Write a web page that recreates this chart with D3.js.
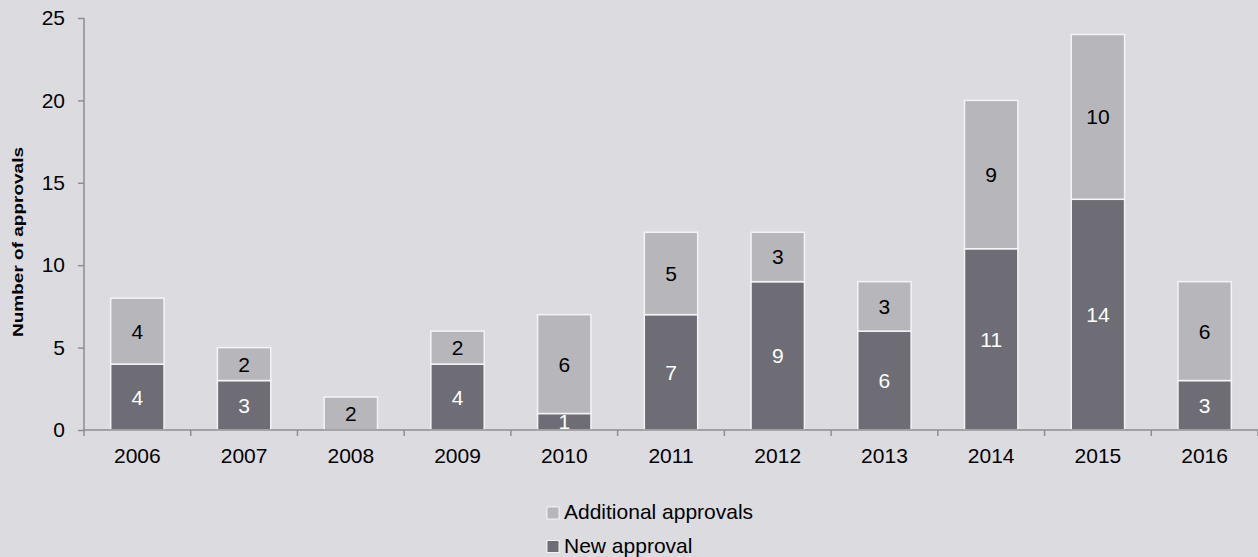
<!DOCTYPE html>
<html>
<head>
<meta charset="utf-8">
<script src="https://cdn.jsdelivr.net/npm/d3@7"></script>
<style>
  html, body { margin: 0; padding: 0; background: #dcdbe0; }
  svg { display: block; font-family: "Liberation Sans", Arial, sans-serif; }
</style>
</head>
<body>
<svg id="chart" width="1258" height="557"></svg>
<script>
const years = ['2006', '2007', '2008', '2009', '2010', '2011', '2012', '2013', '2014', '2015', '2016'];
const newApproval = [4, 3, 0, 4, 1, 7, 9, 6, 11, 14, 3];
const additionalApprovals = [4, 2, 2, 2, 6, 5, 3, 3, 9, 10, 6];
const yTicks = [0, 5, 10, 15, 20, 25];

const seriesInfo = [
    { key: 'new', name: 'New approval', fill: '#6e6d75', text: '#ffffff' },
    { key: 'add', name: 'Additional approvals', fill: '#b7b6bb', text: '#000000' }
];

const svg = d3.select('#chart');
const margin = { left: 84, right: 0, top: 18, bottom: 127 };
const W = 1258, H = 557;
const axisColor = '#8e8d92';
const fs = 21;

const x = d3.scaleBand().domain(years).range([margin.left, W - margin.right]).paddingInner(0.5).paddingOuter(0.25);
const y = d3.scaleLinear().domain([0, 25]).range([H - margin.bottom, margin.top]);

// stack the two series
const rows = years.map((yr, i) => ({ year: yr, new: newApproval[i], add: additionalApprovals[i] }));
const stacked = d3.stack().keys(['new', 'add'])(rows);

const g = svg.append('g');
stacked.forEach((layer, li) => {
    const info = seriesInfo[li];
    const segs = layer.filter(d => d[1] > d[0]);
    const lg = g.append('g');
    lg.selectAll('rect').data(segs).join('rect')
        .attr('x', d => x(d.data.year))
        .attr('width', x.bandwidth())
        .attr('y', d => y(d[1]))
        .attr('height', d => y(d[0]) - y(d[1]))
        .attr('fill', info.fill)
        .attr('stroke', '#f4f4f6')
        .attr('stroke-width', 1.5);
    lg.selectAll('text').data(segs).join('text')
        .attr('x', d => x(d.data.year) + x.bandwidth() / 2)
        .attr('y', d => (y(d[0]) + y(d[1])) / 2 + 7.5)
        .attr('text-anchor', 'middle')
        .attr('font-size', fs)
        .attr('fill', info.text)
        .text(d => d[1] - d[0]);
});

// y axis
const yAxis = svg.append('g').attr('transform', `translate(${margin.left},0)`)
    .call(d3.axisLeft(y).tickValues(yTicks).tickSize(6).tickPadding(13));
yAxis.select('.domain').attr('stroke', axisColor).attr('stroke-width', 1.5).attr('d', `M0,${y(25)}V${y(0)}`);
yAxis.selectAll('.tick line').attr('stroke', axisColor).attr('stroke-width', 1.5);
yAxis.selectAll('.tick text').attr('font-size', fs).attr('fill', '#000')
    .attr('font-family', '"Liberation Sans", Arial, sans-serif');

// x axis, ticks sit between the categories
const base = y(0);
const xg = svg.append('g');
xg.append('line').attr('x1', margin.left).attr('x2', W).attr('y1', base).attr('y2', base)
    .attr('stroke', axisColor).attr('stroke-width', 1.5);
const bounds = d3.range(years.length + 1).map(i => margin.left + i * x.step());
xg.selectAll('line.tk').data(bounds).join('line').attr('class', 'tk')
    .attr('x1', d => d).attr('x2', d => d).attr('y1', base).attr('y2', base + 6)
    .attr('stroke', axisColor).attr('stroke-width', 1.5);
xg.selectAll('text').data(years).join('text')
    .attr('x', d => x(d) + x.bandwidth() / 2)
    .attr('y', base + 33)
    .attr('text-anchor', 'middle')
    .attr('font-size', fs)
    .text(d => d);

// y axis title (stretched a bit in the original)
svg.append('text')
    .attr('transform', 'translate(23,242) rotate(-90)')
    .attr('text-anchor', 'middle')
    .attr('font-size', 14)
    .attr('font-weight', 'bold')
    .attr('textLength', 190)
    .attr('lengthAdjust', 'spacingAndGlyphs')
    .text('Number of approvals');

// legend
const legend = svg.append('g').attr('transform', 'translate(547,0)');
[seriesInfo[1], seriesInfo[0]].forEach((s, i) => {
    const ly = 519 + i * 33.5;
    legend.append('rect').attr('x', 0).attr('y', ly - 12).attr('width', 12).attr('height', 12)
        .attr('fill', s.fill).attr('stroke', '#f4f4f6').attr('stroke-width', 1);
    legend.append('text').attr('x', 17).attr('y', ly).attr('font-size', fs).text(s.name);
});
</script>
</body>
</html>
